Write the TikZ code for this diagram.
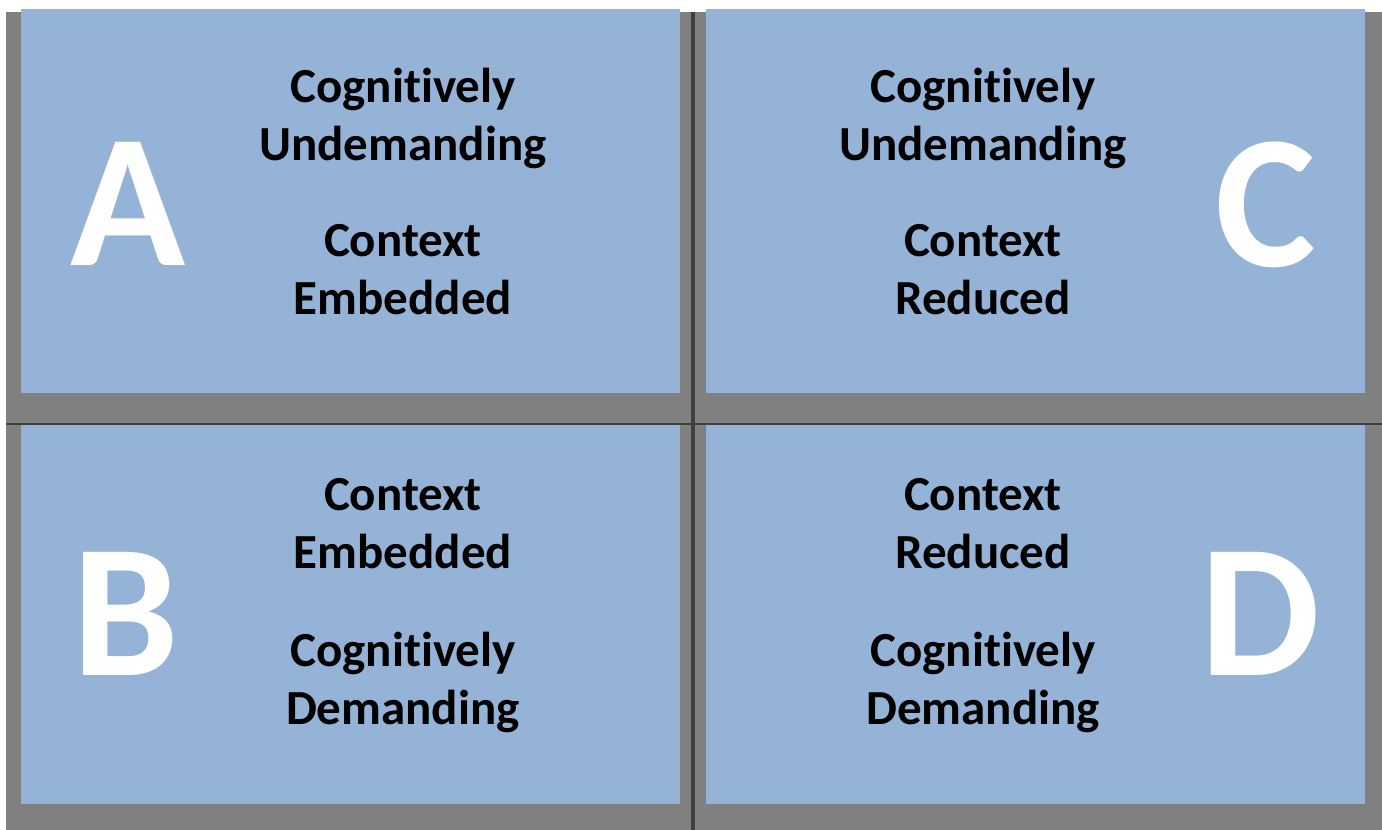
\documentclass[tikz,border=0pt]{standalone}
\usepackage{fontspec}
\setmainfont[Ligatures=NoCommon]{Carlito}
\definecolor{panel_blue}{HTML}{95B3D7}
\definecolor{shadow_gray}{HTML}{808080}
\definecolor{rule_dark}{HTML}{404040}
\tikzset{
  quad_panel/.style={fill=panel_blue, draw=none, inner sep=0pt, minimum width=659pt},
  big_letter/.style={text=white, inner sep=0pt, font=\bfseries\fontsize{190}{190}\selectfont},
  quad_text/.style={align=center, inner sep=0pt, font=\bfseries\fontsize{49}{58}\selectfont}
}
\def\LeftCol {403}
\def\RightCol {983}

\begin{document}
\begin{tikzpicture}[x=1pt,y=-1pt]
        \useasboundingbox (0,0) rectangle (1382,830);
        % shadow and dividing rules
        \fill[shadow_gray] (6,12) rectangle (1382,830);
        \coordinate (v_top) at (693,12);
        \coordinate (v_bot) at (693,830);
        \coordinate (h_left) at (6,424);
        \coordinate (h_right) at (1382,424);
        \draw[rule_dark, line width=4pt] (v_top) -- (v_bot);
        \draw[rule_dark, line width=2pt] (h_left) -- (h_right);
        % the four quadrants
        \node[quad_panel, minimum height=384pt] (panA) at (350.5,201) {};
        \node[quad_panel, minimum height=384pt] (panC) at (1035.5,201) {};
        \node[quad_panel, minimum height=379pt] (panB) at (350.5,614.5) {};
        \node[quad_panel, minimum height=379pt] (panD) at (1035.5,614.5) {};
        \node[big_letter] (letA) at (128,204) {A};
        \node[big_letter] (letB) at (126,614) {B};
        \node[big_letter] (letC) at (1266,205) {C};
        \node[big_letter] (letD) at (1260,614) {D};
        \node[quad_text] (a_cog) at (\LeftCol,118) {Cognitively\\Undemanding};
        \node[quad_text] (a_ctx) at (\LeftCol,270) {Context\\Embedded};
        \node[quad_text] (c_cog) at (\RightCol,118) {Cognitively\\Undemanding};
        \node[quad_text] (c_ctx) at (\RightCol,270) {Context\\Reduced};
        \node[quad_text] (b_ctx) at (\LeftCol,524) {Context\\Embedded};
        \node[quad_text] (b_cog) at (\LeftCol,682) {Cognitively\\Demanding};
        \node[quad_text] (d_ctx) at (\RightCol,524) {Context\\Reduced};
        \node[quad_text] (d_cog) at (\RightCol,682) {Cognitively\\Demanding};
      \end{tikzpicture}
\end{document}
